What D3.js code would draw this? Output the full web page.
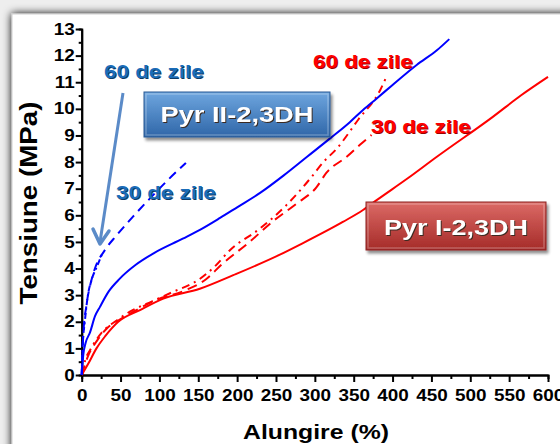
<!DOCTYPE html>
<html>
<head>
<meta charset="utf-8">
<script src="https://cdn.jsdelivr.net/npm/d3@7"></script>
<style>
  body { margin: 0; background: #fff; }
  svg { display: block; font-family: "Liberation Sans", Arial, sans-serif; }
</style>
</head>
<body>
<svg width="560" height="444"></svg>
<script>
// values: [alungire %, tensiune MPa]
var pyr2_0 = [[0, 0], [2, 0.75], [5, 1.2], [10.7, 1.6], [17, 2.2], [23.5, 2.56], [35, 3.15], [49, 3.62], [70, 4.15], [93, 4.58], [130, 5.12], [155, 5.5], [178, 5.9], [200, 6.3], [230, 6.85], [260, 7.5], [290, 8.2], [320, 8.9], [345, 9.5], [362, 9.96], [380, 10.4], [400, 10.9], [431, 11.65], [457, 12.2], [473, 12.62]]
var pyr2_30 = [[0, 0], [2, 1.5], [6, 2.6], [12, 3.5], [17, 4.0], [30, 4.7], [45, 5.25], [66, 5.95], [90, 6.7], [110, 7.3], [134, 7.97]]
var pyr2_60 = [[0, 0], [1, 1], [4, 2], [8, 3], [13, 3.6], [20, 4.1], [27, 4.6]]
var pyr1_0 = [[0, 0], [8, 0.4], [19, 1.0], [30, 1.45], [47, 2.0], [75, 2.44], [105, 2.87], [152, 3.24], [195, 3.75], [255, 4.52], [281, 4.9], [336, 5.75], [362, 6.2], [380, 6.58], [420, 7.4], [457, 8.2], [529, 9.7], [565, 10.5], [600, 11.2]]
var pyr1_30 = [[0, 0], [8, 0.7], [20, 1.3], [32, 1.74], [50, 2.1], [66, 2.37], [96, 2.82], [135, 3.2], [160, 3.6], [180, 4.15], [216, 5.0], [245, 5.75], [277, 6.45], [302, 7.05], [315, 7.6], [341, 8.2], [358, 8.65], [373, 9.02]]
var pyr1_60 = [[0, 0], [5, 0.6], [11, 0.95], [26, 1.6], [45, 2.05], [62, 2.38], [90, 2.76], [118, 3.13], [150, 3.57], [172, 4.1], [191, 4.7], [227, 5.45], [264, 6.4], [296, 7.45], [311, 8.0], [328, 8.5], [356, 9.6], [384, 10.7], [392, 11.2]]

var xTicks = d3.range(0, 601, 50)
var yTicks = d3.range(0, 14, 1)

var K = 1.18 // the picture is a bit stretched sideways

var svg = d3.select('svg')

var defs = svg.append('defs')
var sh = defs.append('filter').attr('id', 'shadow').attr('x', '-20%').attr('y', '-20%').attr('width', '140%').attr('height', '140%')
sh.append('feGaussianBlur').attr('in', 'SourceAlpha').attr('stdDeviation', 4)
sh.append('feOffset').attr('dx', 0).attr('dy', 0).attr('result', 'b')
var m = sh.append('feMerge')
m.append('feMergeNode').attr('in', 'b')
m.append('feMergeNode').attr('in', 'SourceGraphic')

var bs = defs.append('filter').attr('id', 'boxshadow').attr('x', '-10%').attr('y', '-20%').attr('width', '130%').attr('height', '160%')
bs.append('feGaussianBlur').attr('in', 'SourceAlpha').attr('stdDeviation', 1.5)
bs.append('feOffset').attr('dx', 2).attr('dy', 3).attr('result', 'o')
bs.append('feComponentTransfer').attr('in', 'o').attr('result', 'o2')
  .append('feFuncA').attr('type', 'linear').attr('slope', 0.45)
var m2 = bs.append('feMerge')
m2.append('feMergeNode').attr('in', 'o2')
m2.append('feMergeNode').attr('in', 'SourceGraphic')

function grad(id, top, bottom) {
  var g = defs.append('linearGradient').attr('id', id).attr('x1', 0).attr('y1', 0).attr('x2', 0).attr('y2', 1)
  g.append('stop').attr('offset', '0%').attr('stop-color', top)
  g.append('stop').attr('offset', '100%').attr('stop-color', bottom)
}
grad('gblue', '#6ea6df', '#2f66a8')
grad('gred', '#dc6a66', '#a52b28')

// slide frame
svg.append('rect').attr('width', 560).attr('height', 444).attr('fill', '#eeeeee')
svg.append('rect').attr('x', 12).attr('y', 14).attr('width', 560).attr('height', 444)
  .attr('fill', '#fff').attr('stroke', '#cfcfcf').attr('filter', 'url(#shadow)')

var x = d3.scaleLinear().domain([0, 600]).range([81.7, 548])
var y = d3.scaleLinear().domain([0, 13]).range([375, 29])

function stretch(sel) {
  sel.each(function () {
    var w = this.getComputedTextLength()
    d3.select(this).attr('textLength', w * K).attr('lengthAdjust', 'spacingAndGlyphs')
  })
}

// minor ticks first
svg.append('g')
  .attr('transform', 'translate(0,375)')
  .call(d3.axisBottom(x).tickValues(d3.range(25, 600, 50)).tickSize(4).tickFormat(''))
svg.append('g')
  .attr('transform', 'translate(81.7,0)')
  .call(d3.axisLeft(y).tickValues(d3.range(0.5, 13, 1)).tickSize(3).tickFormat(''))

var ax = svg.append('g')
  .attr('class', 'axis')
  .attr('transform', 'translate(0,375)')
  .call(d3.axisBottom(x).tickValues(xTicks).tickSize(7).tickPadding(8).tickSizeOuter(0))
var ay = svg.append('g')
  .attr('class', 'axis')
  .attr('transform', 'translate(81.7,0)')
  .call(d3.axisLeft(y).tickValues(yTicks).tickSize(6).tickPadding(1).tickSizeOuter(0))

svg.selectAll('.domain, .tick line').attr('stroke', '#000').attr('stroke-width', 2)
svg.selectAll('.tick text')
  .attr('fill', '#000').attr('font-size', 16).attr('font-weight', 'bold')
  .attr('font-family', '"Liberation Sans", Arial, sans-serif')
stretch(svg.selectAll('.tick text'))

var line = d3.line()
  .x(function (d) { return x(d[0]) })
  .y(function (d) { return y(d[1]) })
  .curve(d3.curveMonotoneX)

var series = [
  {data: pyr1_0, color: '#ff0000', dash: null},
  {data: pyr1_30, color: '#ff0000', dash: '10,6'},
  {data: pyr1_60, color: '#ff0000', dash: '8,5,2,5'},
  {data: pyr2_0, color: '#0000ff', dash: null},
  {data: pyr2_30, color: '#0000ff', dash: '9,6'},
  {data: pyr2_60, color: '#0000ff', dash: '6,3,2,3'}
]

svg.append('g').selectAll('path')
  .data(series)
  .enter()
  .append('path')
  .attr('d', function (d) { return line(d.data) })
  .attr('fill', 'none')
  .attr('stroke', function (d) { return d.color })
  .attr('stroke-width', 2)
  .attr('stroke-dasharray', function (d) { return d.dash })

// axis titles
var xt = svg.append('text')
  .attr('x', 316).attr('y', 439)
  .attr('text-anchor', 'middle')
  .attr('font-size', 21).attr('font-weight', 'bold')
  .text('Alungire (%)')
stretch(xt)

var yt = svg.append('text')
  .attr('transform', 'translate(37,203) rotate(-90)')
  .attr('text-anchor', 'middle')
  .attr('font-size', 24).attr('font-weight', 'bold')
  .text('Tensiune (MPa)')
yt.attr('textLength', 203).attr('lengthAdjust', 'spacingAndGlyphs')

// arrow
svg.append('line')
  .attr('x1', 123).attr('y1', 93).attr('x2', 100).attr('y2', 242)
  .attr('stroke', '#5b8bc8').attr('stroke-width', 3)
svg.append('path')
  .attr('d', 'M93,229 L100,244 L109,231')
  .attr('fill', 'none').attr('stroke', '#5b8bc8').attr('stroke-width', 3.5)
  .attr('stroke-linejoin', 'round').attr('stroke-linecap', 'round')

// annotations
function label(tx, ty, txt, fill, shade) {
  svg.append('text').attr('x', tx + 1).attr('y', ty + 1)
    .attr('font-size', 19).attr('font-weight', 'bold')
    .attr('fill', shade).text(txt).call(stretch)
  svg.append('text').attr('x', tx).attr('y', ty)
    .attr('font-size', 19).attr('font-weight', 'bold')
    .attr('fill', fill).text(txt).call(stretch)
}
label(104, 78, '60 de zile', '#1a6cb8', '#0d3a66')
label(116, 199, '30 de zile', '#1a6cb8', '#0d3a66')
label(313, 68, '60 de zile', '#ff0000', '#990000')
label(371, 133, '30 de zile', '#ff0000', '#990000')

function box(bx, by, bw, bh, fillId, stroke, txt, ty, tw) {
  var g = svg.append('g').attr('filter', 'url(#boxshadow)')
  g.append('rect').attr('x', bx).attr('y', by).attr('width', bw).attr('height', bh)
    .attr('fill', 'url(#' + fillId + ')').attr('stroke', stroke).attr('stroke-width', 1)
  g.append('rect').attr('x', bx + 2).attr('y', by + 2).attr('width', bw - 4).attr('height', bh - 4)
    .attr('fill', 'none').attr('stroke', 'rgba(255,255,255,0.25)').attr('stroke-width', 1.5)
  g.append('text').attr('x', bx + bw / 2 + 1).attr('y', ty + 1)
    .attr('text-anchor', 'middle').attr('font-size', 22).attr('font-weight', 'bold')
    .attr('textLength', tw).attr('lengthAdjust', 'spacingAndGlyphs')
    .attr('fill', '#3a2a20').text(txt)
  g.append('text').attr('x', bx + bw / 2).attr('y', ty)
    .attr('text-anchor', 'middle').attr('font-size', 22).attr('font-weight', 'bold')
    .attr('textLength', tw).attr('lengthAdjust', 'spacingAndGlyphs')
    .attr('fill', '#fff').text(txt)
}
box(144, 92, 186, 45, 'gblue', '#2a5a94', 'Pyr II-2,3DH', 122, 153)
box(366, 202, 180, 48, 'gred', '#8c2523', 'Pyr I-2,3DH', 235, 144)
</script>
</body>
</html>
